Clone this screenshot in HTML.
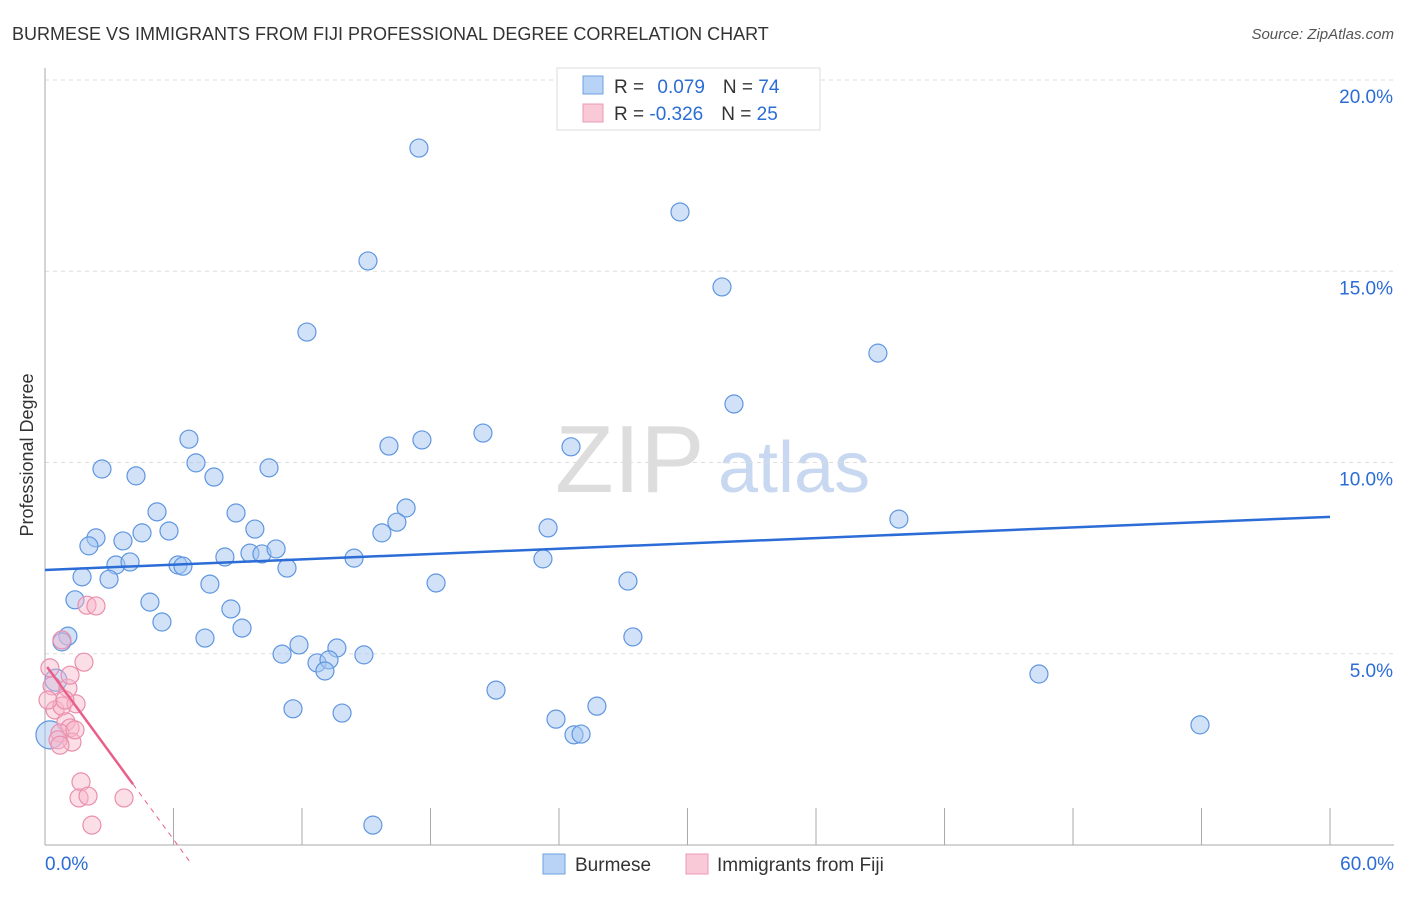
<!DOCTYPE html>
<html><head><meta charset="utf-8"><style>
body{margin:0;background:#fff;font-family:"Liberation Sans",sans-serif;}
svg text{font-family:"Liberation Sans",sans-serif;}
</style></head><body>
<svg id="c" width="1406" height="892" xmlns="http://www.w3.org/2000/svg">
<text x="12" y="40" font-size="18" fill="#333">BURMESE VS IMMIGRANTS FROM FIJI PROFESSIONAL DEGREE CORRELATION CHART</text>
<text x="1394" y="39" font-size="15" fill="#555" font-style="italic" text-anchor="end">Source: ZipAtlas.com</text>
<text transform="translate(33,455) rotate(-90)" font-size="18" fill="#333" text-anchor="middle">Professional Degree</text>
<text x="555" y="492" font-size="96" fill="#ddd" font-family="Liberation Serif">ZIP</text>
<text x="718" y="492" font-size="72" fill="#c8d8f0">atlas</text>
<g id="grid"></g><g id="pts"></g><g id="lines"></g>
<g>
<rect x="557" y="68" width="263" height="62" fill="#fff" stroke="#ddd"/>
<rect x="583" y="76" width="20" height="18" fill="#b8d3f5" stroke="#6ea0e0"/>
<rect x="583" y="104" width="20" height="18" fill="#f9c9d8" stroke="#ea9ab5"/>
<text x="614" y="93" font-size="19" fill="#333">R = <tspan fill="#2b6cd6" dx="8">0.079</tspan><tspan fill="#333" dx="18">N = </tspan><tspan fill="#2b6cd6">74</tspan></text>
<text x="614" y="120" font-size="19" fill="#333">R = <tspan fill="#2b6cd6">-0.326</tspan><tspan fill="#333" dx="18">N = </tspan><tspan fill="#2b6cd6">25</tspan></text>
</g>
<g>
<rect x="543" y="854" width="22" height="20" fill="#b8d3f5" stroke="#6ea0e0"/>
<text x="575" y="871" font-size="19" fill="#333">Burmese</text>
<rect x="686" y="854" width="22" height="20" fill="#f9c9d8" stroke="#ea9ab5"/>
<text x="717" y="871" font-size="19" fill="#333">Immigrants from Fiji</text>
</g>
</svg>
<script>
const yTicks=[5,10,15,20];
const yTickLabels=["5.0%","10.0%","15.0%","20.0%"];
const xTickLabels=["0.0%","60.0%"];
const burmeseX=[17.46,29.65,15.08,31.61,12.23,38.89,32.17,6.72,20.45,17.60,16.06,24.56,2.66,4.25,7.05,7.89,10.46,5.23,8.92,16.86,16.43,23.49,39.87,9.80,5.79,4.53,2.38,3.64,2.05,15.73,9.57,10.13,10.79,8.40,6.21,6.44,3.31,3.97,14.43,23.25,11.30,1.73,2.99,7.70,18.26,27.22,1.40,4.90,8.68,5.46,9.20,1.07,0.79,7.47,27.45,11.86,13.63,11.07,14.89,12.70,13.26,13.07,46.41,21.06,11.58,13.87,23.86,25.77,24.70,25.03,53.93,15.31,0.51,0.23];
const burmeseY=[18.22,16.55,15.27,14.59,13.41,12.86,11.53,10.61,10.77,10.59,10.43,10.41,9.83,9.65,9.99,9.62,9.86,8.71,8.68,8.81,8.44,8.29,8.52,8.26,8.21,8.16,8.03,7.95,7.82,8.16,7.63,7.61,7.74,7.53,7.32,7.29,7.32,7.40,7.50,7.48,7.24,7.01,6.95,6.82,6.85,6.90,6.41,6.35,6.17,5.83,5.67,5.46,5.31,5.41,5.44,5.23,5.15,4.99,4.97,4.76,4.84,4.55,4.47,4.05,3.56,3.45,3.29,3.63,2.88,2.90,3.14,0.52,4.31,2.88];
const fijiX=[0.23,0.33,1.07,1.17,0.47,0.79,0.98,1.45,1.17,0.70,1.26,0.61,1.96,2.38,0.79,1.82,1.68,1.59,2.01,3.69,2.19,0.14,0.93,1.40,0.70];
const fijiY=[4.63,4.16,4.10,4.44,3.53,3.63,3.22,3.69,3.06,2.93,2.69,2.75,6.27,6.25,5.36,4.78,1.65,1.23,1.28,1.23,0.52,3.79,3.79,3.01,2.61];
const burmeseTrend=[7.19,8.58];
const fijiTrend=[4.73,-0.764,4.11,6.77];
const NS="http://www.w3.org/2000/svg";
const X0=45,X1=1330,Y0=845,PY=38.25;
const sx=v=>X0+(v/60)*(X1-X0), sy=v=>Y0-v*PY;
function mk(p,t,a){const e=document.createElementNS(NS,t);for(const k in a)e.setAttribute(k,a[k]);p.appendChild(e);return e;}
const g=document.getElementById('grid');
yTicks.forEach((t,i)=>{
 const l=mk(g,'line',{x1:45,x2:1394,y1:sy(t),y2:sy(t),stroke:'#ddd','stroke-dasharray':'4,4'});
 
 
 const tx=mk(g,'text',{x:1393,y:sy(t)+23,'font-size':19,fill:'#2b6cd6','text-anchor':'end'});tx.textContent=yTickLabels[i];
 
 
});
mk(g,'line',{x1:45,x2:1394,y1:80,y2:80,stroke:'#ddd','stroke-dasharray':'4,4'});
const ax=mk(g,'line',{x1:45,x2:45,y1:68,y2:845,stroke:'#aaa'});


const bx=mk(g,'line',{x1:45,x2:1394,y1:845,y2:845,stroke:'#aaa'});


for(let v=6;v<=60;v+=6){const t=mk(g,'line',{x1:sx(v),x2:sx(v),y1:808,y2:845,stroke:'#aaa'});
 
 }
[[0,'start',45],[60,'end',1394]].forEach((d,i)=>{const t=mk(g,'text',{x:d[2],y:870,'font-size':19,fill:'#2b6cd6','text-anchor':d[1]});t.textContent=xTickLabels[i];
 
 });
const P=document.getElementById('pts');
burmeseX.forEach((x,i)=>{const r=(i>=burmeseX.length-2)?(i==burmeseX.length-1?14:11):9;
 const c=mk(P,'circle',{cx:sx(x),cy:sy(burmeseY[i]),r:r,fill:'rgba(164,198,242,0.5)',stroke:'#5f96e0','stroke-width':1.2});
 
 });
fijiX.forEach((x,i)=>{const c=mk(P,'circle',{cx:sx(x),cy:sy(fijiY[i]),r:9,fill:'rgba(248,182,202,0.45)',stroke:'#e98fae','stroke-width':1.2});
 
 });
const L=document.getElementById('lines');
const bl=mk(L,'line',{x1:sx(0),y1:sy(burmeseTrend[0]),x2:sx(60),y2:sy(burmeseTrend[1]),stroke:'#2b6cd6','stroke-width':2.5});


const f=x=>fijiTrend[0]+fijiTrend[1]*x;
const fl=mk(L,'line',{x1:sx(0.1),y1:sy(f(0.1)),x2:sx(fijiTrend[2]),y2:sy(f(fijiTrend[2])),stroke:'#e8608a','stroke-width':2.5});


const fd=mk(L,'line',{x1:sx(fijiTrend[2]),y1:sy(f(fijiTrend[2])),x2:sx(fijiTrend[3]),y2:sy(f(fijiTrend[3])),stroke:'#e8608a','stroke-width':1,'stroke-dasharray':'5,5'});


</script>
</body></html>
